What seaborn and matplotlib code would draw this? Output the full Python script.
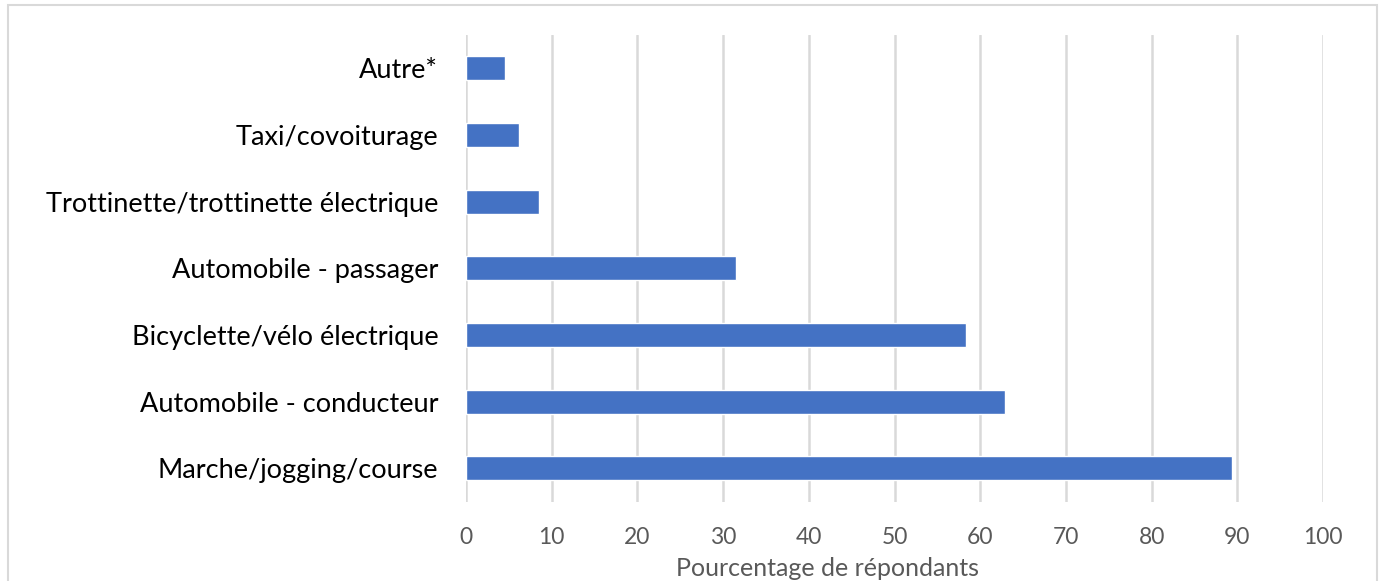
import matplotlib
matplotlib.use("Agg")
import matplotlib.pyplot as plt
import seaborn as sns
import pandas as pd
from matplotlib.patches import Rectangle

# Data
modes = ["Autre*", "Taxi/covoiturage", "Trottinette/trottinette électrique",
         "Automobile - passager", "Bicyclette/vélo électrique",
         "Automobile - conducteur", "Marche/jogging/course"]
pourcentages = [4.5, 6.2, 8.5, 31.5, 58.4, 62.9, 89.4]
x_ticks = [0, 10, 20, 30, 40, 50, 60, 70, 80, 90, 100]

df = pd.DataFrame({"mode": modes, "pct": pourcentages})

sns.set_style("white")
plt.rcParams['font.family'] = ['Lato', 'DejaVu Sans']

fig = plt.figure(figsize=(13.84, 5.81), dpi=100)
ax = fig.add_axes([466 / 1384, 1 - 501.5 / 581, (1323 - 466) / 1384, (501.5 - 35) / 581])

sns.barplot(data=df, x="pct", y="mode", orient="h", color="#4472C4",
            saturation=1, width=0.36, ax=ax, zorder=3)

ax.set_xlim(0, 100)
ax.set_xticks(x_ticks)
ax.set_xticklabels([str(t) for t in x_ticks], fontsize=16.5, color="#595959")
ax.tick_params(axis="x", length=0, pad=18)
ax.tick_params(axis="y", length=0, pad=20, labelsize=19.5, labelcolor="black")
ax.grid(axis="x", color="#D9D9D9", linewidth=1.8, zorder=0)
ax.set_axisbelow(True)
for s in ax.spines.values():
    s.set_visible(False)

ax.set_ylabel("")
ax.set_xlabel("")
fig.text(827 / 1384, 1 - 568 / 581, "Pourcentage de répondants", fontsize=18,
         color="#595959", ha="center", va="center")

# light frame around the chart area
fig.patches.append(Rectangle((8 / 1384, -0.05), 1369 / 1384, (575 + 30) / 581,
                             transform=fig.transFigure, fill=False,
                             edgecolor="#D9D9D9", linewidth=1.5))

fig.savefig("out.png", dpi=100)
